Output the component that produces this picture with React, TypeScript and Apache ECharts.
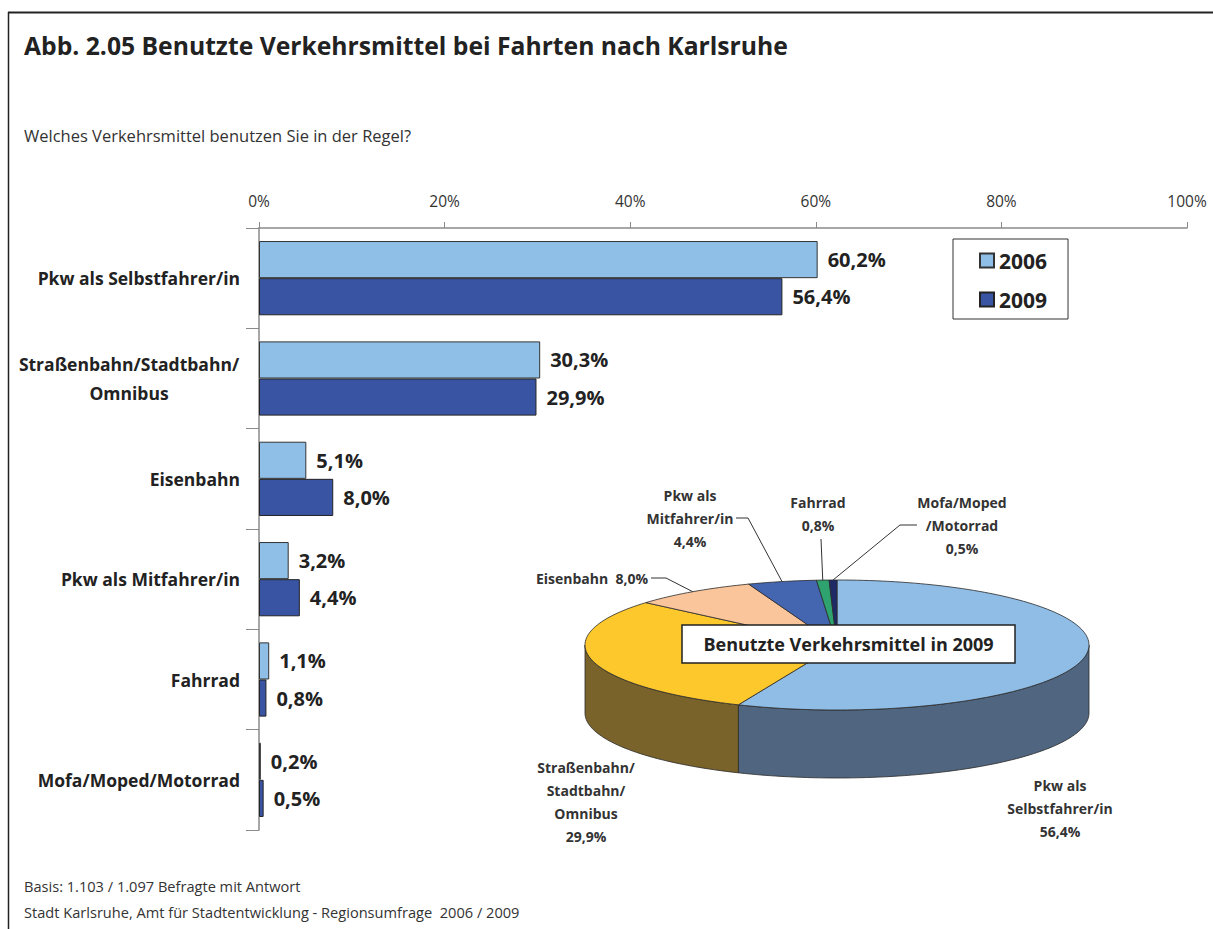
import React, { useEffect, useRef } from 'react';
import * as echarts from 'echarts';

// ---------- data ----------
const categories = [
  'Pkw als Selbstfahrer/in',
  'Straßenbahn/Stadtbahn/\nOmnibus',
  'Eisenbahn',
  'Pkw als Mitfahrer/in',
  'Fahrrad',
  'Mofa/Moped/Motorrad',
];
const seriesNames = ['2006', '2009'];
const values2006 = [60.2, 30.3, 5.1, 3.2, 1.1, 0.2];
const values2009 = [56.4, 29.9, 8.0, 4.4, 0.8, 0.5];
const pieLabelNames = [
  'Pkw als\nSelbstfahrer/in',
  'Straßenbahn/\nStadtbahn/\nOmnibus',
  'Eisenbahn',
  'Pkw als\nMitfahrer/in',
  'Fahrrad',
  'Mofa/Moped\n/Motorrad',
];
const titleText = 'Abb. 2.05 Benutzte Verkehrsmittel bei Fahrten nach Karlsruhe';
const subtitleText = 'Welches Verkehrsmittel benutzen Sie in der Regel?';
const pieTitleText = 'Benutzte Verkehrsmittel in 2009';
const footerLines = [
  'Basis: 1.103 / 1.097 Befragte mit Antwort',
  'Stadt Karlsruhe, Amt für Stadtentwicklung - Regionsumfrage  2006 / 2009',
];

// ---------- styles / layout ----------
const FONT = "'Open Sans', 'Noto Sans', sans-serif";
const barColors = ['#8fbfe7', '#3a54a4'];
const pieTopColors = ['#8fbde6', '#fdc82c', '#fbc59b', '#4466b0', '#2ea36f', '#1e2a66'];
const pieSideColors = ['#50657f', '#7a632a', '#9a7a5e', '#2c4270', '#1d6a48', '#121a40'];
const CX = 837, CY = 645, RX = 252, RY = 65, DEPTH = 68;
const pieLabelLayout: { x: number; y: number; inline?: boolean; leader?: number[][] }[] = [
  { x: 1060, y: 808 },
  { x: 586, y: 802 },
  { x: 592, y: 578, inline: true, leader: [[651, 578], [666, 578]] },
  { x: 690, y: 518, leader: [[736, 518], [748, 518]] },
  { x: 818, y: 514, leader: [[821, 539]] },
  { x: 962, y: 525, leader: [[917, 525], [900, 525]] },
];

const fmt = (v: number) => v.toFixed(1).replace('.', ',') + '%';

const total = values2009.reduce((a, b) => a + b, 0);
const starts: number[] = [];
{
  let acc = 0;
  values2009.forEach((v) => {
    starts.push(acc);
    acc += v;
  });
}

const pt = (a: number, dy = 0) => [
  CX + RX * Math.cos((a * Math.PI) / 180),
  CY + RY * Math.sin((a * Math.PI) / 180) + dy,
];
const arc = (s: number, e: number, dy = 0) => {
  const n = Math.max(2, Math.ceil((e - s) / 1.5));
  const out: number[][] = [];
  for (let k = 0; k <= n; k++) out.push(pt(s + ((e - s) * k) / n, dy));
  return out;
};

const barLabel = {
  show: true,
  position: 'right',
  distance: 10,
  formatter: (p: any) => fmt(p.value),
  fontSize: 20,
  fontWeight: 'bold',
  color: '#222',
  fontFamily: FONT,
};

const option: any = {
  animation: false,
  textStyle: { fontFamily: FONT },
  grid: { left: 259, top: 228, width: 928, height: 602 },
  xAxis: {
    type: 'value',
    position: 'top',
    min: 0,
    max: 100,
    interval: 20,
    axisLine: { show: true, lineStyle: { color: '#8a8a8a', width: 1.5 } },
    axisTick: { show: true, length: 6, lineStyle: { color: '#8a8a8a' } },
    splitLine: { show: false },
    axisLabel: { formatter: '{value}%', fontSize: 15.5, color: '#333', margin: 19, fontFamily: FONT },
  },
  yAxis: {
    type: 'category',
    inverse: true,
    data: categories,
    axisLine: { show: true, lineStyle: { color: '#8a8a8a', width: 1.5 } },
    axisTick: { show: true, length: 13, lineStyle: { color: '#8a8a8a' } },
    axisLabel: {
      fontSize: 17.5,
      fontWeight: 'bold',
      color: '#222',
      margin: 19,
      fontFamily: FONT,
      formatter: (v: string) =>
        v.includes('\n') ? v.split('\n').map((s) => '{c|' + s + '}').join('\n') : v,
      rich: {
        c: { width: 222, align: 'center', fontSize: 17.5, fontWeight: 'bold', color: '#222', lineHeight: 29, fontFamily: FONT },
      },
    },
  },
  legend: {
    orient: 'vertical',
    left: 953,
    top: 239,
    padding: [11, 21, 9, 26],
    itemGap: 18,
    itemWidth: 14,
    itemHeight: 14,
    borderColor: '#333',
    borderWidth: 1,
    icon: 'rect',
    data: seriesNames,
    textStyle: { fontSize: 21, fontWeight: 'bold', color: '#222', lineHeight: 20, fontFamily: FONT },
  },
  series: [
    {
      name: seriesNames[0],
      type: 'bar',
      data: values2006,
      barCategoryGap: '26%',
      barGap: '0%',
      itemStyle: { color: barColors[0], borderColor: '#333', borderWidth: 1 },
      label: barLabel,
    },
    {
      name: seriesNames[1],
      type: 'bar',
      data: values2009,
      barCategoryGap: '26%',
      barGap: '0%',
      itemStyle: { color: barColors[1], borderColor: '#222', borderWidth: 1 },
      label: barLabel,
    },
    {
      type: 'custom',
      coordinateSystem: 'none',
      silent: true,
      data: values2009,
      z: 5,
      renderItem: (params: any, api: any) => {
        const i = params.dataIndex;
        const v = api.value(0);
        const a1 = -90 + (starts[i] / total) * 360;
        const a2 = a1 + (v / total) * 360;
        const children: any[] = [];
        const b1 = Math.max(a1, 0);
        const b2 = Math.min(a2, 180);
        if (b2 > b1) {
          const top = arc(b1, b2);
          const bot = arc(b1, b2, DEPTH).reverse();
          children.push({
            type: 'polygon',
            shape: { points: top.concat(bot) },
            style: { fill: pieSideColors[i], stroke: '#2a2a2a', lineWidth: 0.8 },
          });
        }
        children.push({
          type: 'polygon',
          shape: { points: [[CX, CY]].concat(arc(a1, a2)) },
          style: { fill: pieTopColors[i], stroke: '#2a2a2a', lineWidth: 0.8 },
        });
        const lay = pieLabelLayout[i];
        if (lay.leader) {
          const anchor = pt((a1 + a2) / 2);
          children.push({
            type: 'polyline',
            shape: { points: lay.leader.concat([anchor]) },
            style: { stroke: '#333', lineWidth: 1, fill: null },
          });
        }
        const txt = lay.inline
          ? pieLabelNames[i] + '  ' + fmt(v)
          : pieLabelNames[i] + '\n' + fmt(v);
        children.push({
          type: 'text',
          style: {
            text: txt,
            x: lay.x,
            y: lay.y,
            align: 'center',
            verticalAlign: 'middle',
            fontSize: 14,
            fontWeight: 'bold',
            fontFamily: FONT,
            fill: '#333',
            lineHeight: 23,
          },
        });
        return { type: 'group', children };
      },
    },
  ],
  graphic: [
    { type: 'line', z: 100, shape: { x1: 8, y1: 12.5, x2: 1213, y2: 12.5 }, style: { stroke: '#222', lineWidth: 2 } },
    { type: 'line', z: 100, shape: { x1: 8.5, y1: 12, x2: 8.5, y2: 929 }, style: { stroke: '#222', lineWidth: 1.5 } },
    {
      type: 'text', z: 100, x: 24, y: 45,
      style: { text: titleText, fontSize: 24.7, fontWeight: 'bold', fontFamily: FONT, fill: '#222', verticalAlign: 'middle' },
    },
    {
      type: 'text', z: 100, x: 24, y: 135,
      style: { text: subtitleText, fontSize: 16.5, fontFamily: FONT, fill: '#333', verticalAlign: 'middle' },
    },
    {
      type: 'text', z: 100, x: 24, y: 886,
      style: { text: footerLines[0], fontSize: 14.6, fontFamily: FONT, fill: '#333', verticalAlign: 'middle' },
    },
    {
      type: 'text', z: 100, x: 24, y: 912,
      style: { text: footerLines[1], fontSize: 14.6, fontFamily: FONT, fill: '#333', verticalAlign: 'middle' },
    },
    {
      type: 'rect', z: 100, shape: { x: 682, y: 625, width: 333, height: 38 },
      style: { fill: '#fff', stroke: '#222', lineWidth: 1.5 },
    },
    {
      type: 'text', z: 101, x: 848.5, y: 644,
      style: { text: pieTitleText, fontSize: 18, fontWeight: 'bold', fontFamily: FONT, fill: '#222', align: 'center', verticalAlign: 'middle' },
    },
  ],
};

export default function App() {
  const ref = useRef<HTMLDivElement>(null);
  useEffect(() => {
    const chart = echarts.init(ref.current!, null, { renderer: 'svg' });
    chart.setOption(option);
    return () => chart.dispose();
  }, []);
  return (
    <div
      ref={ref}
      style={{ position: 'absolute', left: 0, top: 0, width: 1213, height: 929, background: '#fff' }}
    />
  );
}
